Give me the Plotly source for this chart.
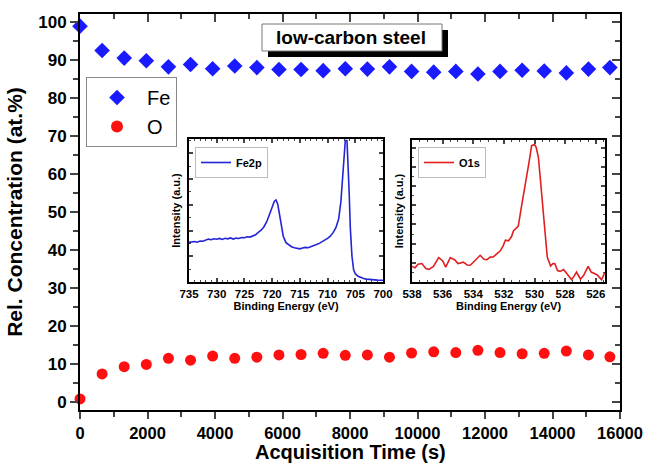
import plotly.graph_objects as go

# ---------------- data ----------------
time_s = [0, 655, 1310, 1965, 2620, 3275, 3930, 4585, 5240, 5895, 6550, 7205, 7860,
          8515, 9170, 9825, 10480, 11135, 11790, 12445, 13100, 13755, 14410, 15065, 15700]
fe_at = [98.9, 92.5, 90.5, 89.8, 88.2, 88.8, 87.7, 88.4, 88.0, 87.5, 87.5, 87.2, 87.7,
         87.6, 88.2, 87.0, 86.8, 87.0, 86.3, 87.0, 87.3, 87.1, 86.6, 87.6, 88.0]
o_at = [0.8, 7.4, 9.3, 9.9, 11.5, 11.0, 12.1, 11.5, 11.8, 12.4, 12.5, 12.8, 12.3,
        12.4, 11.8, 12.9, 13.2, 13.0, 13.6, 13.0, 12.7, 12.8, 13.4, 12.4, 11.9]

fe2p_be = [735, 734.5, 734, 733.5, 733, 732.5, 732, 731.5, 731, 730.5, 730, 729.5, 729, 728.5,
           728, 727.5, 727, 726.5, 726, 725.5, 725, 724.5, 724, 723.5, 723, 722.5, 722, 721.5,
           721, 720.5, 720, 719.6, 719.3, 719, 718.7, 718.3, 718, 717.5, 717, 716.5, 716, 715.5,
           715, 714.5, 714, 713.5, 713, 712.5, 712, 711.5, 711, 710.5, 710, 709.5, 709, 708.5,
           708, 707.6, 707.3, 707.0, 706.8, 706.5, 706.3, 706.1, 705.9, 705.6, 705.3, 705,
           704.5, 704, 703.5, 703, 702.5, 702, 701.5, 701, 700.5, 700]
fe2p_int = [0.277, 0.280, 0.283, 0.278, 0.287, 0.285, 0.291, 0.300, 0.296, 0.302, 0.299, 0.305,
            0.298, 0.306, 0.302, 0.308, 0.300, 0.307, 0.304, 0.311, 0.309, 0.316, 0.314, 0.320,
            0.330, 0.347, 0.362, 0.385, 0.420, 0.470, 0.530, 0.565, 0.574, 0.545, 0.480, 0.380,
            0.320, 0.275, 0.258, 0.247, 0.240, 0.236, 0.232, 0.238, 0.242, 0.240, 0.246, 0.252,
            0.262, 0.270, 0.280, 0.292, 0.305, 0.320, 0.345, 0.380, 0.440, 0.560, 0.700, 0.860,
            0.990, 0.990, 0.850, 0.620, 0.380, 0.180, 0.085, 0.058, 0.040, 0.030, 0.024, 0.020,
            0.017, 0.015, 0.014, 0.013, 0.012, 0.012]

o1s_be = [538, 537.8, 537.6, 537.35, 537.1, 536.9, 536.6, 536.26, 536.0, 535.8, 535.5, 535.2,
          535.0, 534.64, 534.4, 534.2, 533.9, 533.55, 533.3, 533.1, 532.9, 532.7, 532.45,
          532.25, 532.05, 531.9, 531.7, 531.5, 531.38, 531.2, 531.06, 530.84, 530.65, 530.5,
          530.35, 530.19, 530.0, 529.9, 529.75, 529.6, 529.43, 529.3, 529.17, 528.95, 528.8,
          528.67, 528.5, 528.34, 528.1, 527.9, 527.58, 527.4, 527.26, 527.0, 526.8, 526.5,
          526.3, 526.1, 525.9, 525.63, 525.4]
o1s_int = [0.110, 0.100, 0.125, 0.130, 0.095, 0.089, 0.110, 0.172, 0.150, 0.105, 0.172, 0.155,
           0.130, 0.140, 0.120, 0.118, 0.150, 0.188, 0.160, 0.158, 0.175, 0.176, 0.200,
           0.218, 0.255, 0.294, 0.290, 0.320, 0.360, 0.375, 0.393, 0.540, 0.650, 0.740,
           0.850, 0.960, 0.968, 0.950, 0.880, 0.700, 0.480, 0.300, 0.176, 0.112, 0.130,
           0.128, 0.080, 0.075, 0.088, 0.060, 0.016, 0.045, 0.070, 0.020, 0.045, 0.110,
           0.070, 0.060, 0.050, 0.016, 0.070]

# ---------------- layout helpers ----------------
W, H = 646, 464
PL, PR, PT, PB = 80, 620, 14, 410


def px(x):
    return (x - PL) / (PR - PL)


def py(y):
    return (PB - y) / (PB - PT)


FONT = "Liberation Sans, Arial, sans-serif"
blue = "#1a1aff"
red = "#ff1010"

fig = go.Figure()
fig.add_trace(go.Scatter(x=time_s, y=fe_at, mode="markers", name="Fe",
                         marker=dict(symbol="diamond", size=12, color=blue),
                         cliponaxis=False, legend="legend"))
fig.add_trace(go.Scatter(x=time_s, y=o_at, mode="markers", name="O",
                         marker=dict(symbol="circle", size=11, color=red),
                         cliponaxis=False, legend="legend"))
fig.add_trace(go.Scatter(x=fe2p_be, y=fe2p_int, mode="lines", name="Fe2p",
                         line=dict(color="#2323d8", width=1.6),
                         xaxis="x2", yaxis="y2", legend="legend2"))
fig.add_trace(go.Scatter(x=o1s_be, y=o1s_int, mode="lines", name="O1s",
                         line=dict(color="#e02020", width=1.6),
                         xaxis="x3", yaxis="y3", legend="legend3"))
# invisible trace for the mirrored top/right axes
fig.add_trace(go.Scatter(x=[None], y=[None], xaxis="x4", yaxis="y4",
                         showlegend=False, hoverinfo="skip"))

main_tickfont = dict(family=FONT, size=17, color="black", weight="bold")
x_tickfont = dict(family=FONT, size=16.5, color="black", weight="bold")
inset_tickfont = dict(family=FONT, size=11.5, color="black", weight="bold")
inset_title_font = dict(family=FONT, size=11, color="black", weight="bold")

fig.update_layout(
    width=W, height=H,
    margin=dict(l=PL, r=W - PR, t=PT, b=H - PB, autoexpand=False),
    paper_bgcolor="white", plot_bgcolor="white",
    xaxis=dict(range=[0, 16000], dtick=2000, tickformat="d", ticks="outside", ticklen=7,
               tickwidth=2, automargin=False, ticklabeloverflow="allow",
               minor=dict(dtick=1000, ticks="outside", ticklen=5, tickwidth=2),
               showline=True, linewidth=2, linecolor="black", showgrid=False, zeroline=False,
               tickfont=x_tickfont),
    yaxis=dict(range=[-2.1, 102.1], dtick=10, ticks="outside", ticklen=8, tickwidth=2,
               automargin=False,
               minor=dict(dtick=5, ticks="outside", ticklen=5, tickwidth=2),
               showline=True, linewidth=2, linecolor="black", showgrid=False, zeroline=False,
               tickfont=main_tickfont,
               title=dict(text="Rel. Concentration (at.%)",
                          font=dict(family=FONT, size=21, color="black", weight="bold"),
                          standoff=10)),
    xaxis4=dict(overlaying="x", side="top", anchor="y4", range=[0, 16000], dtick=2000,
                ticks="inside", ticklen=8, tickwidth=2, showticklabels=False, automargin=False,
                minor=dict(dtick=1000, ticks="inside", ticklen=5, tickwidth=2),
                showline=True, linewidth=2, linecolor="black", showgrid=False, zeroline=False),
    yaxis4=dict(overlaying="y", side="right", anchor="x4", range=[-2.1, 102.1], dtick=10,
                ticks="inside", ticklen=8, tickwidth=2, showticklabels=False, automargin=False,
                minor=dict(dtick=5, ticks="inside", ticklen=5, tickwidth=2),
                showline=True, linewidth=2, linecolor="black", showgrid=False, zeroline=False),
    # Fe2p inset
    xaxis2=dict(domain=[px(189), px(383)], anchor="y2", range=[735, 700], dtick=5,
                ticks="inside", ticklen=4, tickwidth=1.5, mirror="allticks", automargin=False,
                minor=dict(dtick=1, ticks="inside", ticklen=2.5, tickwidth=1.2),
                showline=True, linewidth=1.5, linecolor="black", showgrid=False, zeroline=False,
                tickfont=inset_tickfont,
                title=dict(text="Binding Energy (eV)", font=inset_title_font, standoff=2)),
    yaxis2=dict(domain=[py(282), py(139)], anchor="x2", range=[0, 1], dtick=0.18,
                ticks="inside", ticklen=4, tickwidth=1.5, mirror="allticks", automargin=False,
                minor=dict(dtick=0.09, ticks="inside", ticklen=2.5, tickwidth=1.2),
                showline=True, linewidth=1.5, linecolor="black", showgrid=False, zeroline=False,
                showticklabels=False,
                title=dict(text="Intensity (a.u.)", font=inset_title_font, standoff=4)),
    # O1s inset
    xaxis3=dict(domain=[px(412), px(605)], anchor="y3", range=[538, 525.4], dtick=2,
                ticks="inside", ticklen=4, tickwidth=1.5, mirror="allticks", automargin=False,
                minor=dict(dtick=0.5, ticks="inside", ticklen=2.5, tickwidth=1.2),
                showline=True, linewidth=1.5, linecolor="black", showgrid=False, zeroline=False,
                tickfont=inset_tickfont,
                title=dict(text="Binding Energy (eV)", font=inset_title_font, standoff=2)),
    yaxis3=dict(domain=[py(282), py(140)], anchor="x3", range=[0, 1], dtick=0.135,
                ticks="inside", ticklen=4, tickwidth=1.5, mirror="allticks", automargin=False,
                minor=dict(dtick=0.0675, ticks="inside", ticklen=2.5, tickwidth=1.2),
                showline=True, linewidth=1.5, linecolor="black", showgrid=False, zeroline=False,
                showticklabels=False,
                title=dict(text="Intensity (a.u.)", font=inset_title_font, standoff=4)),
    legend=dict(x=px(86), y=py(77), xanchor="left", yanchor="top",
                bordercolor="#888888", borderwidth=1, bgcolor="white",
                font=dict(family=FONT, size=20, color="black"),
                itemsizing="constant", itemwidth=50, tracegroupgap=0),
    legend2=dict(x=px(195), y=py(147), xanchor="left", yanchor="top",
                 bordercolor="#bbbbbb", borderwidth=1, bgcolor="white",
                 font=dict(family=FONT, size=11, color="black", weight="bold"),
                 itemwidth=30),
    legend3=dict(x=px(418), y=py(147), xanchor="left", yanchor="top",
                 bordercolor="#bbbbbb", borderwidth=1, bgcolor="white",
                 font=dict(family=FONT, size=11, color="black", weight="bold"),
                 itemwidth=30),
    showlegend=True,
)

# x-axis title placed as text below the tick labels
fig.add_annotation(xref="paper", yref="paper", x=0.5, y=py(464),
                   xanchor="center", yanchor="bottom", borderpad=0,
                   text="Acquisition Time (s)", showarrow=False,
                   font=dict(family=FONT, size=20, color="black", weight="bold"))

# title box with shadow
fig.add_shape(type="rect", xref="paper", yref="paper",
              x0=px(268), x1=px(448), y0=py(57), y1=py(30),
              fillcolor="black", line=dict(width=0), layer="above")
fig.add_shape(type="rect", xref="paper", yref="paper",
              x0=px(262), x1=px(442), y0=py(51), y1=py(24),
              fillcolor="white", line=dict(color="#777777", width=1), layer="above")
fig.add_annotation(xref="paper", yref="paper", x=px(351), y=py(37.5),
                   xanchor="center", yanchor="middle",
                   text="low-carbon steel", showarrow=False,
                   font=dict(family=FONT, size=19, color="black", weight="bold"))

fig.write_html("out.html")
